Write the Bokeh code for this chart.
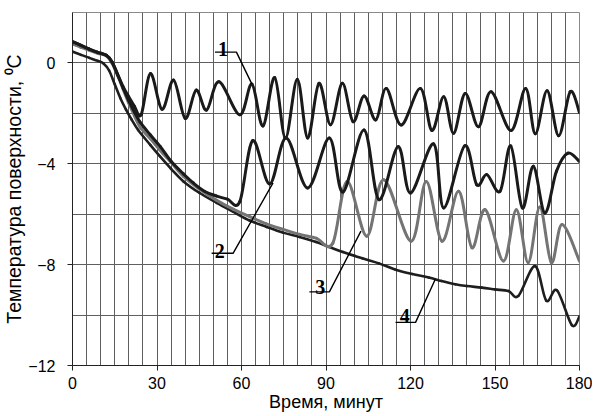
from bokeh.plotting import figure
from bokeh.models import Range1d, FixedTicker, Label, ColumnDataSource
from bokeh.embed import file_html
from bokeh.resources import INLINE

# ---- data ----
t1 = [0, 3, 6, 9, 12, 14, 16, 18, 20, 22, 24.4, 27.7, 31.8, 35.9, 40, 43.9, 47.6, 52.0,
      59.4, 63.7, 67.6, 71.8, 75.6, 79.8, 83.5, 87.5, 91.6, 95.8, 99.6, 103.5, 107.7,
      111.4, 116.7, 123.5, 127.6, 131.8, 135.3, 139.4, 144.1, 148.6, 155.7, 160.9,
      164.3, 168.5, 172.6, 176.7, 180]
v1 = [0.85, 0.7, 0.55, 0.42, 0.3, 0.05, -0.45, -0.95, -1.35, -1.72, -2.05, -0.42, -1.84,
      -0.68, -2.2, -1.08, -1.87, -0.75, -2.06, -0.84, -2.5, -0.58, -2.98, -0.65, -2.98,
      -0.81, -2.45, -0.81, -2.33, -1.31, -2.26, -1.01, -2.46, -1.01, -2.68, -1.34, -2.79,
      -1.21, -2.53, -1.14, -2.68, -1.01, -2.81, -1.1, -2.89, -1.14, -1.97]

t2 = [0, 3, 6, 9, 12, 14, 16, 18, 20, 22, 24, 27.6, 31.2, 35, 39.4, 42.9, 47, 51.2, 55,
      59.4, 64.0, 70.0, 75.9, 83.5, 91.2, 96.0, 103.5, 108.8, 115.6, 120.0, 128.2, 131.8,
      139.2, 143.5, 147.1, 151.8, 155.6, 159.7, 163.6, 167.7, 171.8, 175.9, 180]
v2 = [0.85, 0.7, 0.55, 0.42, 0.3, 0.05, -0.45, -1.0, -1.5, -1.95, -2.35, -2.85, -3.32,
      -3.9, -4.4, -4.76, -5.1, -5.28, -5.4, -5.5, -3.08, -4.8, -2.98, -4.96, -2.98, -5.12,
      -2.66, -5.42, -3.32, -5.16, -3.21, -5.75, -3.29, -4.83, -4.43, -5.09, -3.29, -5.75,
      -4.1, -5.95, -4.3, -3.58, -3.91]

t3 = [0, 3, 6, 9, 12, 14, 16, 18, 20, 22, 24, 27.6, 31, 35, 39.4, 45, 51.2, 57, 62.9,
      68.8, 74.7, 80.6, 86.5, 92.4, 97.5, 104.5, 110.5, 120.2, 125.6, 131.2, 137.1,
      141.8, 146.5, 153.0, 157.6, 161.8, 165.9, 170.0, 173.8, 180]
v3 = [0.75, 0.62, 0.5, 0.38, 0.28, 0.0, -0.5, -1.05, -1.6, -2.1, -2.55, -3.0, -3.45,
      -3.95, -4.5, -5.0, -5.45, -5.8, -6.1, -6.38, -6.6, -6.8, -6.95, -7.15, -4.7, -6.87,
      -4.63, -7.07, -4.7, -7.07, -5.09, -7.33, -5.82, -7.86, -5.82, -7.92, -5.71, -7.92,
      -6.41, -7.86]

t4 = [0, 3, 6, 9, 11, 13, 15, 17, 19, 21, 23.3, 27.6, 31, 35, 39.4, 45, 51.2, 57, 62.9,
      68.8, 74.7, 80.6, 86.5, 91.2, 96, 102.9, 108.8, 114.7, 120.6, 126.5, 131, 135.9,
      140, 145.3, 150, 154.8, 158.3, 164.2, 168.2, 172.0, 177.3, 180]
v4 = [0.45, 0.32, 0.2, 0.08, -0.02, -0.3, -0.85, -1.4, -1.85, -2.25, -2.66, -3.25, -3.7,
      -4.2, -4.7, -5.15, -5.55, -5.9, -6.25, -6.5, -6.73, -6.9, -7.1, -7.3, -7.5, -7.75,
      -7.95, -8.2, -8.37, -8.51, -8.65, -8.78, -8.85, -8.91, -8.98, -9.05, -9.24, -8.06,
      -9.43, -9.02, -10.4, -10.05]

x_ticks = [0, 30, 60, 90, 120, 150, 180]
y_ticks = [-12, -8, -4, 0]
x_grid = list(range(0, 181, 5))
y_grid = list(range(-12, 3, 2))

curve_names = ["1", "2", "3", "4"]
# label anchors: text position, underline start/end, pointer end on the curve
label_text_x = [53.4, 52.3, 88.0, 118.0]
label_text_y = [0.57, -7.46, -8.87, -10.05]
leader_x = [[50.6, 58.2, 63.7], [49.4, 57.0, 71.2], [84.1, 91.2, 102.4], [114.7, 121.8, 128.8]]
leader_y = [[0.43, 0.43, -0.84], [-7.55, -7.55, -4.76], [-9.08, -9.08, -6.67], [-10.29, -10.29, -8.58]]


def smooth_source(t, v):
    """Bezier segments through the read points (smoothed line rendering)."""
    n = len(t)
    d = dict(x0=[], y0=[], x1=[], y1=[], cx0=[], cy0=[], cx1=[], cy1=[])
    for i in range(n - 1):
        im = i - 1 if i > 0 else i
        i2 = i + 2 if i + 2 < n else i + 1
        c0x = t[i] + (t[i + 1] - t[im]) / 6.0
        c0y = v[i] + (v[i + 1] - v[im]) / 6.0
        c1x = t[i + 1] - (t[i2] - t[i]) / 6.0
        c1y = v[i + 1] - (v[i2] - v[i]) / 6.0
        c0x = min(c0x, t[i + 1])
        c1x = max(c1x, t[i])
        d["x0"].append(t[i]); d["y0"].append(v[i])
        d["x1"].append(t[i + 1]); d["y1"].append(v[i + 1])
        d["cx0"].append(c0x); d["cy0"].append(c0y)
        d["cx1"].append(c1x); d["cy1"].append(c1y)
    return ColumnDataSource(d)


p = figure(width=592, height=415, x_range=Range1d(0, 180), y_range=Range1d(-12, 2),
           output_backend="svg", toolbar_location=None,
           min_border_left=69, min_border_right=13, min_border_top=12, min_border_bottom=50)

p.background_fill_color = "white"
p.border_fill_color = "white"
p.outline_line_color = "#8a8a8a"
p.outline_line_width = 1

p.xgrid.ticker = FixedTicker(ticks=x_grid)
p.ygrid.ticker = FixedTicker(ticks=y_grid)
for g in (p.xgrid, p.ygrid):
    g.grid_line_color = "#5e5e5e"
    g.grid_line_width = 1
    g.grid_line_alpha = 1.0

p.xaxis.ticker = FixedTicker(ticks=x_ticks)
p.yaxis.ticker = FixedTicker(ticks=y_ticks)
for ax in (p.xaxis, p.yaxis):
    ax.axis_line_color = "#222222"
    ax.axis_line_width = 1
    ax.major_tick_line_color = "#222222"
    ax.major_tick_out = 5
    ax.major_tick_in = 0
    ax.minor_tick_line_color = None
    ax.major_label_text_font = "Liberation Sans"
    ax.major_label_text_font_size = "16px"
    ax.major_label_text_color = "black"
    ax.axis_label_text_font = "Liberation Sans"
    ax.axis_label_text_font_style = "normal"
    ax.axis_label_text_color = "black"

p.xaxis.major_label_standoff = 6
p.xaxis.axis_label = "Время, минут"
p.xaxis.axis_label_text_font_size = "18px"
p.xaxis.axis_label_standoff = 0

p.yaxis.major_label_standoff = 12
p.yaxis.axis_label = "Температура поверхности, ⁰C"
p.yaxis.axis_label_text_font_size = "19.5px"
p.yaxis.axis_label_standoff = 0

series = [(t4, v4, "#1e1e1e", 2.6), (t3, v3, "#747474", 3.0),
          (t2, v2, "#1a1a1a", 3.0), (t1, v1, "#1a1a1a", 3.0)]
for t, v, col, w in series:
    p.bezier(x0="x0", y0="y0", x1="x1", y1="y1", cx0="cx0", cy0="cy0", cx1="cx1", cy1="cy1",
             source=smooth_source(t, v), line_color=col, line_width=w, line_cap="round")

for name, tx, ty, lx, ly in zip(curve_names, label_text_x, label_text_y, leader_x, leader_y):
    p.line(lx, ly, line_color="black", line_width=1.4)
    p.add_layout(Label(x=tx, y=ty, text=name, text_align="center", text_baseline="alphabetic",
                       text_font="Liberation Serif", text_font_style="bold",
                       text_font_size="20px", text_color="black"))

open("out.html", "w").write(file_html(p, INLINE))
